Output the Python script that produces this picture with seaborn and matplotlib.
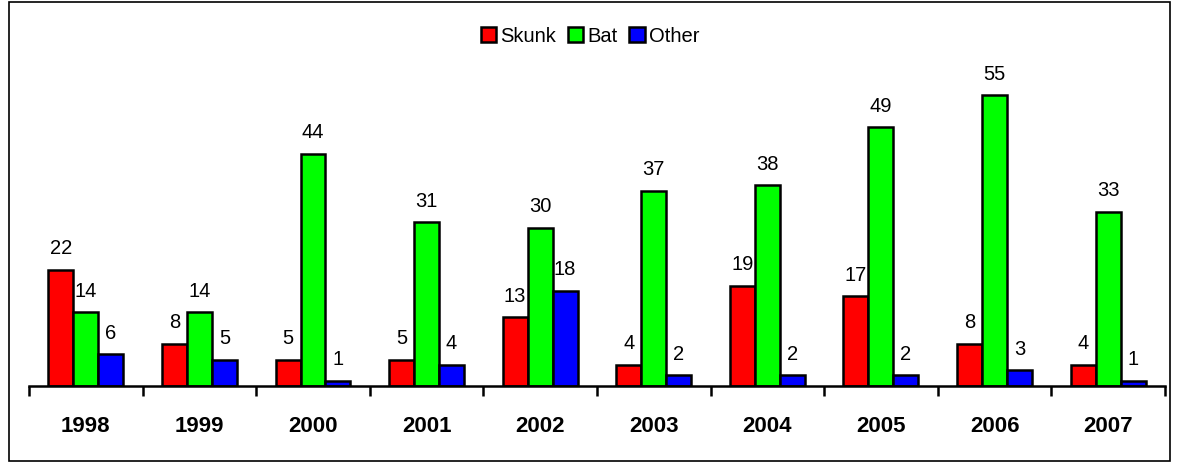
import pandas as pd
import matplotlib.pyplot as plt
import matplotlib.patches as mpatches
import seaborn as sns

years = ['1998', '1999', '2000', '2001', '2002', '2003', '2004', '2005', '2006', '2007']
skunk = [22, 8, 5, 5, 13, 4, 19, 17, 8, 4]
bat = [14, 14, 44, 31, 30, 37, 38, 49, 55, 33]
other = [6, 5, 1, 4, 18, 2, 2, 2, 3, 1]
series = ['Skunk', 'Bat', 'Other']
colors = ['#ff0000', '#00ff00', '#0000ff']

df = pd.DataFrame({'Year': years * 3,
                   'Count': skunk + bat + other,
                   'Animal': [s for s in series for _ in years]})

sns.set_style('white')
plt.rcParams['font.family'] = ['Liberation Sans', 'DejaVu Sans']
plt.rcParams['text.color'] = 'black'
plt.rcParams['xtick.color'] = 'black'

fig = plt.figure(figsize=(11.8, 4.64), dpi=100)
ax = fig.add_axes([0.0246, 0.166, 0.9626, 0.683])

sns.barplot(data=df, x='Year', y='Count', hue='Animal', palette=colors, saturation=1,
            width=0.66, edgecolor='black', linewidth=1.8, legend=False, ax=ax)

# value labels above each bar
for cont in ax.containers:
    ax.bar_label(cont, padding=9, fontsize=14.5, color='black', clip_on=False)

ax.set_ylim(0, 60)
ax.set_xlim(-0.5, len(years) - 0.5)
ax.set_xlabel('')
ax.set_ylabel('')
ax.set_yticks([])
for side in ['top', 'right', 'left']:
    ax.spines[side].set_visible(False)
ax.spines['bottom'].set_linewidth(1.8)
ax.spines['bottom'].set_color('black')

ax.set_xticks(range(len(years)))
ax.set_xticklabels(years, fontsize=16, fontweight='bold', color='black')
ax.tick_params(axis='x', which='major', bottom=True, length=0, pad=21)
ax.set_xticks([i - 0.5 for i in range(len(years) + 1)], minor=True)
ax.tick_params(axis='x', which='minor', bottom=True, length=7, width=1.8,
               direction='out', color='black')

handles = [mpatches.Patch(facecolor=c, edgecolor='black', linewidth=1.8, label=s)
           for s, c in zip(series, colors)]
fig.legend(handles=handles, loc='upper center', bbox_to_anchor=(0.5, 0.98), ncol=3,
           frameon=False, fontsize=14.5, handlelength=0.75, handleheight=0.75,
           handletextpad=0.2, columnspacing=0.6)

# outer frame
fig.patches.append(mpatches.Rectangle((9 / 1180, 2 / 464), 1161 / 1180, 459 / 464,
                                      transform=fig.transFigure, fill=False,
                                      edgecolor='black', linewidth=1.2))

fig.savefig('out.png', dpi=100)
